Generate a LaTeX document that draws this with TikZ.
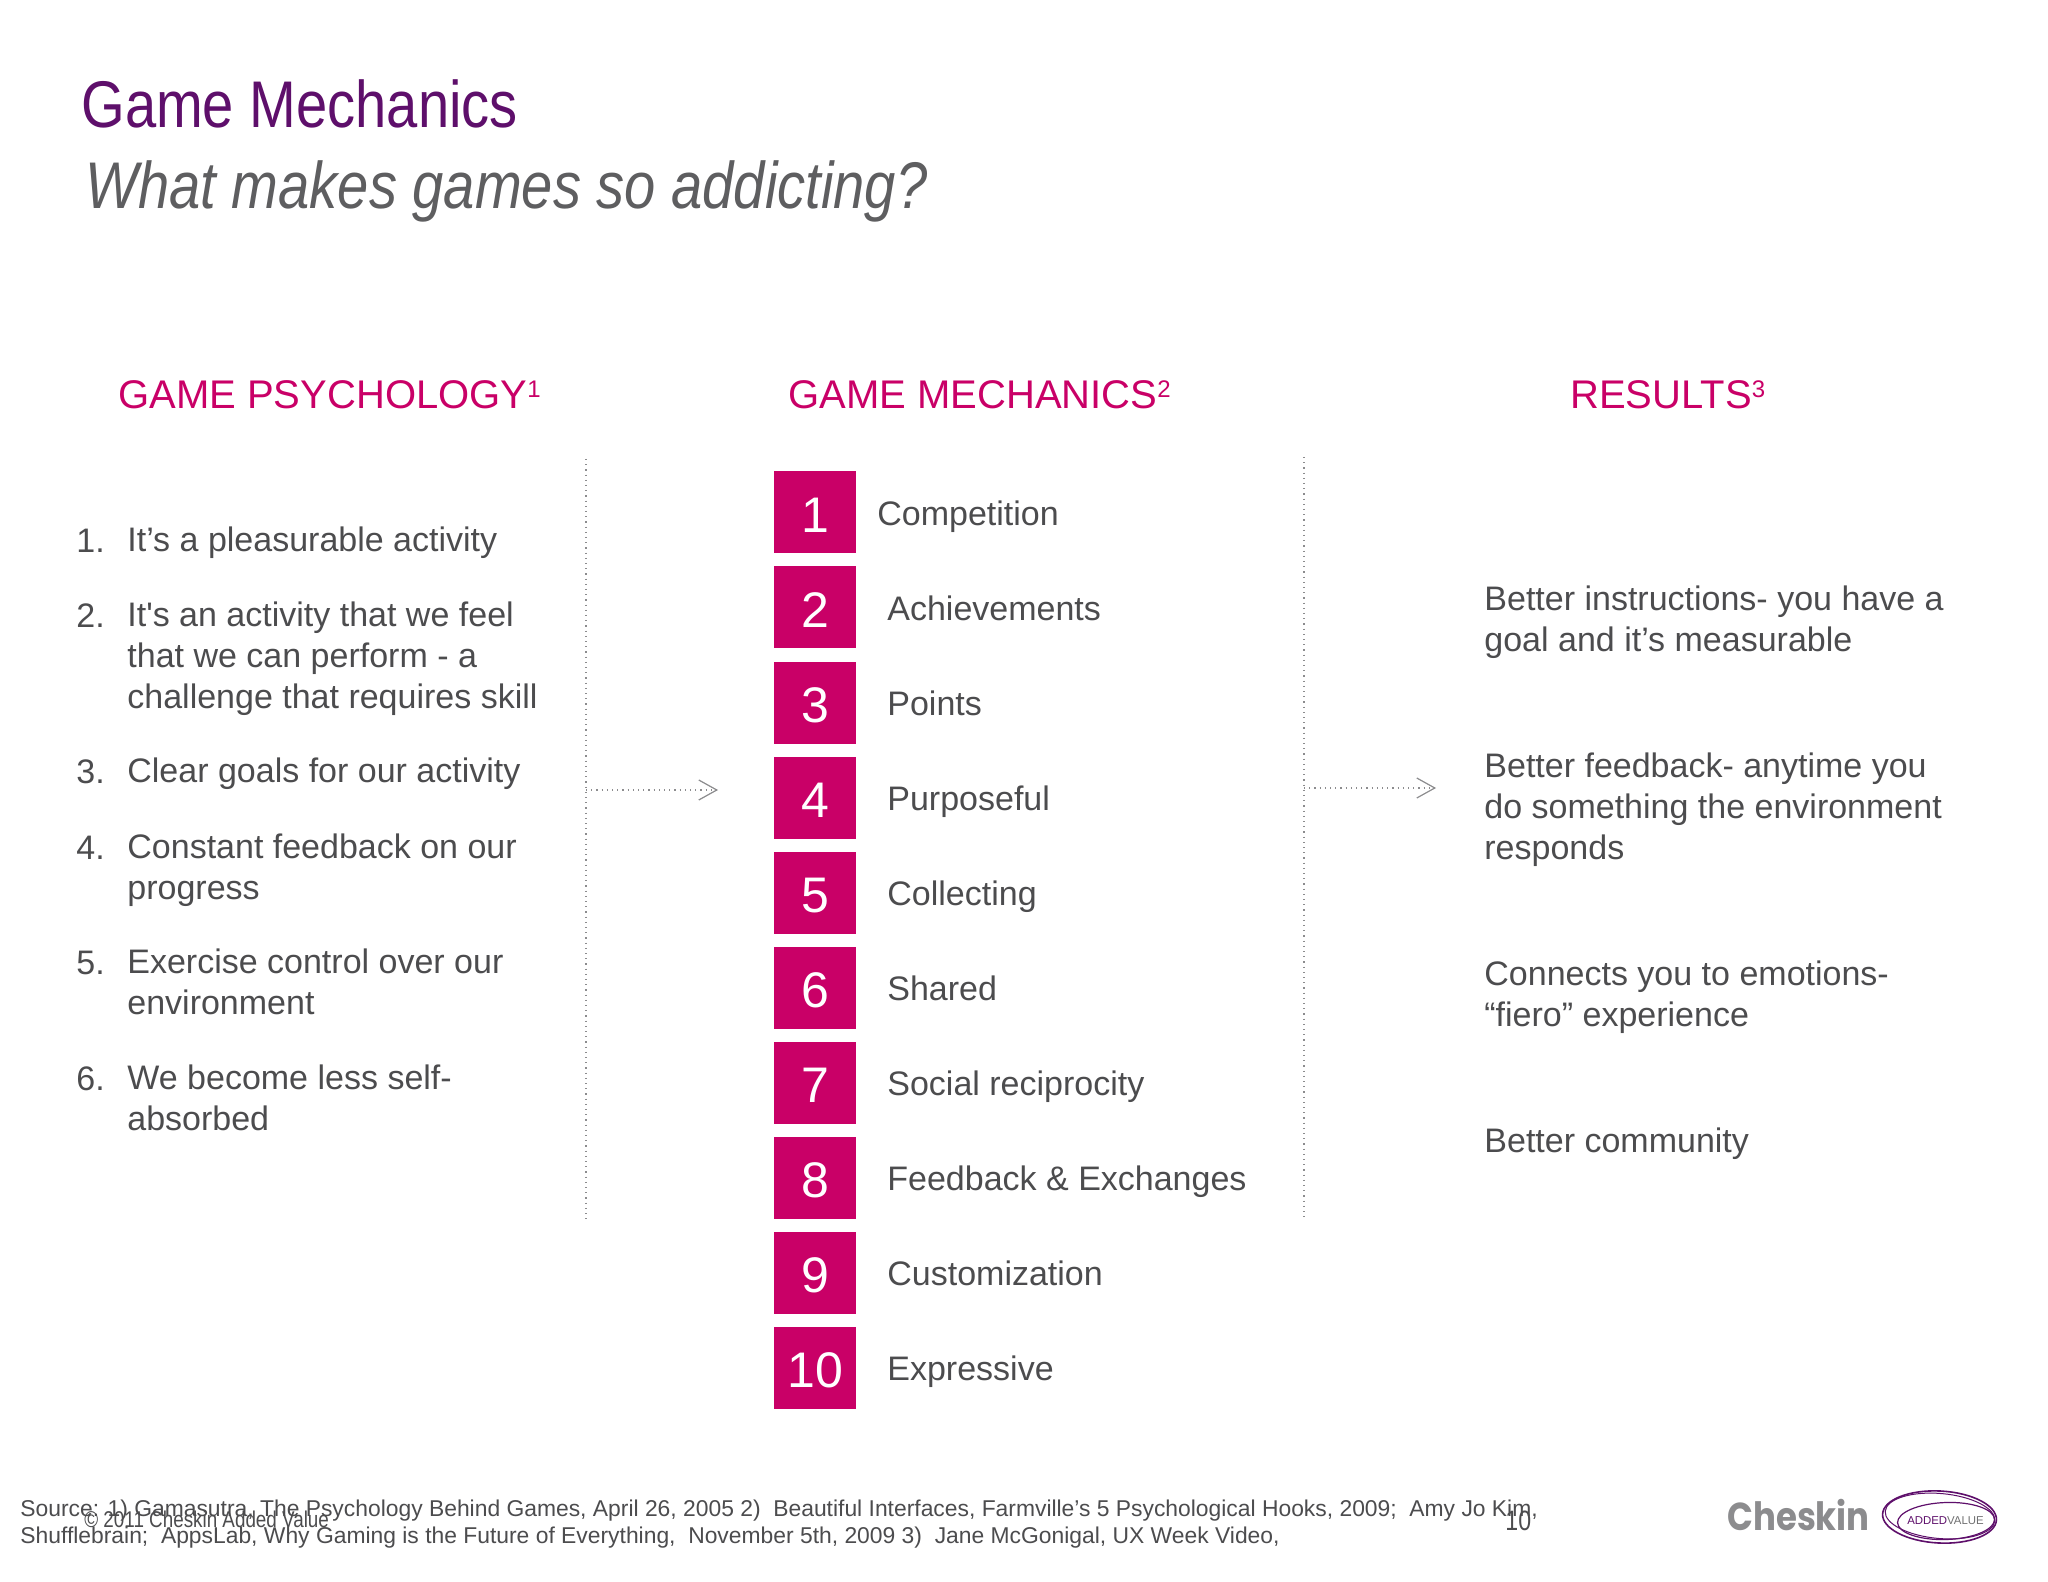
\documentclass[tikz,border=0pt]{standalone}
\usepackage{fontspec}
\usepackage{xcolor}
\usetikzlibrary{arrows.meta, shapes.geometric}
\setmainfont{Liberation Sans}
\newfontfamily\narrowfont[FakeStretch=0.85]{Liberation Sans}
\newfontfamily\copyfont[FakeStretch=0.826]{Liberation Sans}
\newfontfamily\logofont[FakeStretch=0.87]{Poppins}
\newcommand{\supmark}[1]{\raisebox{5.5pt}{\fontsize{12}{14}\selectfont #1}}
\definecolor{plum}{HTML}{5E0F6B}
\definecolor{berry}{HTML}{C90067}
\definecolor{slate}{HTML}{4C4C4E}
\definecolor{rulegrey}{HTML}{8C8C8E}
\tikzset{
  bodytext/.style={anchor=north west, inner sep=0pt, align=left, text=slate,
    font=\fontsize{17}{20.5}\selectfont},
  heading/.style={anchor=base west, inner sep=0pt, text=berry, font=\fontsize{20}{24}\selectfont},
  numbox/.style={fill=berry, text=white, minimum size=41pt, inner sep=0pt, text height=20.4pt, text depth=0pt,
    font=\fontsize{25}{30}\selectfont},
  rulerline/.style={rulegrey, dotted, line width=.6pt},
  pointer/.style={rulegrey, dotted, line width=.6pt, -{Straight Barb[length=9pt, width=10pt, line width=.6pt]}},
  footnotetext/.style={anchor=base west, inner sep=0pt, text=slate, font=\fontsize{11.43}{13.5}\selectfont},
  logoring/.style={ellipse, draw=plum, inner sep=0pt},
}

\begin{document}
\begin{tikzpicture}[x=.5pt, y=-.5pt]
    \useasboundingbox[fill=white] (0, 0) rectangle (2048, 1582);

    \node[anchor=base west, inner sep=0pt, text=plum, font=\narrowfont\fontsize{33}{38}\selectfont] (title) at (81, 128) {Game Mechanics};
    \node[anchor=base west, inner sep=0pt, text=slate!90, font=\narrowfont\itshape\fontsize{33}{38}\selectfont] (subtitle) at (85, 209) {What makes games so addicting?};

    \node[heading] (psych) at (118, 409) {GAME PSYCHOLOGY\supmark{1}};
    \node[heading] (mech) at (788, 409) {GAME MECHANICS\supmark{2}};
    \node[heading] (results) at (1570, 409) {RESULTS\supmark{3}};

    \node[bodytext] (n1) at (76, 528.5) {1.};
    \node[bodytext] (p1) at (127, 526) {It’s a pleasurable activity};
    \node[bodytext] (n2) at (76, 603.5) {2.};
    \node[bodytext] (p2) at (127, 601) {It\textquotesingle s an activity that we feel\\that we can perform - a\\challenge that requires skill};
    \node[bodytext] (n3) at (76, 759.5) {3.};
    \node[bodytext] (p3) at (127, 757) {Clear goals for our activity};
    \node[bodytext] (n4) at (76, 835.5) {4.};
    \node[bodytext] (p4) at (127, 833) {Constant feedback on our\\progress};
    \node[bodytext] (n5) at (76, 950.5) {5.};
    \node[bodytext] (p5) at (127, 948) {Exercise control over our\\environment};
    \node[bodytext] (n6) at (76, 1066.5) {6.};
    \node[bodytext] (p6) at (127, 1064) {We become less self-\\absorbed};

    \coordinate (ruleAtop) at (586, 459);
    \coordinate (ruleAbot) at (586, 1222);
    \coordinate (ruleBtop) at (1304, 457);
    \coordinate (ruleBbot) at (1304, 1220);
    \coordinate (arrowAstart) at (586, 790);
    \coordinate (arrowAend) at (718, 790);
    \coordinate (arrowBstart) at (1304, 788);
    \coordinate (arrowBend) at (1436, 788);

    \draw[rulerline] (ruleAtop) -- (ruleAbot);
    \draw[rulerline] (ruleBtop) -- (ruleBbot);
    \draw[pointer] (arrowAstart) -- (arrowAend);
    \draw[pointer] (arrowBstart) -- (arrowBend);

    \node[numbox] (b1) at (815, 512) {1};
    \node[numbox] (b2) at (815, 607) {2};
    \node[numbox] (b3) at (815, 702.5) {3};
    \node[numbox] (b4) at (815, 797.5) {4};
    \node[numbox] (b5) at (815, 892.5) {5};
    \node[numbox] (b6) at (815, 987.5) {6};
    \node[numbox] (b7) at (815, 1082.5) {7};
    \node[numbox] (b8) at (815, 1177.5) {8};
    \node[numbox] (b9) at (815, 1272.5) {9};
    \node[numbox] (b10) at (815, 1367.5) {10};

    \node[bodytext] (m1) at (877, 500) {Competition};
    \node[bodytext] (m2) at (887, 595) {Achievements};
    \node[bodytext] (m3) at (887, 690) {Points};
    \node[bodytext] (m4) at (887, 785) {Purposeful};
    \node[bodytext] (m5) at (887, 880) {Collecting};
    \node[bodytext] (m6) at (887, 975) {Shared};
    \node[bodytext] (m7) at (887, 1070) {Social reciprocity};
    \node[bodytext] (m8) at (887, 1165) {Feedback \& Exchanges};
    \node[bodytext] (m9) at (887, 1260.5) {Customization};
    \node[bodytext] (m10) at (887, 1355.5) {Expressive};

    \node[bodytext] (r1) at (1484, 585) {Better instructions- you have a\\goal and it’s measurable};
    \node[bodytext] (r2) at (1484, 752) {Better feedback- anytime you\\do something the environment\\responds};
    \node[bodytext] (r3) at (1484, 960) {Connects you to emotions-\\“fiero” experience};
    \node[bodytext] (r4) at (1484, 1127) {Better community};

    \node[footnotetext] (source1) at (20, 1516) {Source: 1) Gamasutra, The Psychology Behind Games, April 26, 2005 2) \ Beautiful Interfaces, Farmville’s 5 Psychological Hooks, 2009; \ Amy Jo Kim,};
    \node[footnotetext] (source2) at (20, 1543) {Shufflebrain; \ AppsLab, Why Gaming is the Future of Everything, \ November 5th, 2009 3) \ Jane McGonigal, UX Week Video,};
    \node[anchor=base west, inner sep=0pt, text=slate, font=\copyfont\fontsize{11.4}{13}\selectfont] (copyright) at (84, 1527) {© 2011 Cheskin Added Value};
    \node[anchor=base west, inner sep=0pt, text=slate, font=\copyfont\fontsize{14}{16}\selectfont] (pagenum) at (1505, 1530) {10};

    \node[anchor=base west, inner sep=0pt, text=rulegrey, font=\logofont\bfseries\fontsize{19.5}{24}\selectfont] (cheskin) at (1727, 1530) {Cheskin};
    \node[logoring, line width=.8pt, minimum width=57pt, minimum height=26pt, rotate=-3] (ring) at (1939.5, 1517) {};
    \node[logoring, line width=.5pt, minimum width=55pt, minimum height=22.5pt, rotate=-5] (ringb) at (1940, 1516) {};
    \node[logoring, line width=.6pt, minimum width=48.5pt, minimum height=18.5pt, rotate=2] (ringc) at (1946, 1521) {};
    \node[inner sep=0pt, font=\fontsize{5.7}{7}\selectfont] (addedvalue) at (1945.5, 1521) {\textcolor{plum}{ADDED}\textcolor{rulegrey!80!black}{VALUE}};
\end{tikzpicture}
\end{document}
